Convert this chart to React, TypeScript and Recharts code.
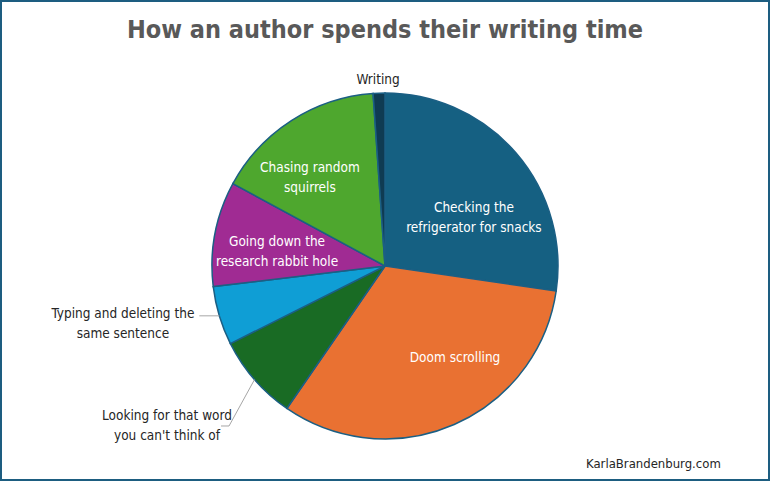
import { Pie, PieChart, Cell } from 'recharts'

const categories = [
    'Checking the refrigerator for snacks',
    'Doom scrolling',
    "Looking for that word you can't think of",
    'Typing and deleting the same sentence',
    'Going down the research rabbit hole',
    'Chasing random squirrels',
    'Writing',
]
const shares = [27.3, 32.3, 8, 5.5, 9.8, 16, 1.1]
// label text split into lines as in the original
const labelLines = [
    ['Checking the', 'refrigerator for snacks'],
    ['Doom scrolling'],
    ['Looking for that word', "you can't think of"],
    ['Typing and deleting the', 'same sentence'],
    ['Going down the', 'research rabbit hole'],
    ['Chasing random', 'squirrels'],
    ['Writing'],
]

const colors = ['#156082', '#E97132', '#196B24', '#0F9ED5', '#A02B93', '#4EA72E', '#0f3b52']

// label centre, relative to the centre, in units of the radius
const labelPos = [
    [0.514, -0.283],
    [0.405, 0.526],
    [-1.26, 0.919],
    [-1.515, 0.33],
    [-0.624, -0.087],
    [-0.434, -0.514],
    [-0.04, -1.08],
]
const outside = [false, false, true, true, false, false, true]

const W = 770
const H = 481
const CX = 385
const CY = 266
const R = 173
const FONT = '"DejaVu Sans Condensed", "Liberation Sans Narrow", Roboto, sans-serif'

const data = categories.map((name, i) => ({ name, value: shares[i] }))

function renderLabel(props: any) {
    const { cx, cy, outerRadius, midAngle, index } = props
    const rad = Math.PI / 180
    const [fx, fy] = labelPos[index]
    const tx = cx + fx * outerRadius
    const ty = cy + fy * outerRadius
    const lines = labelLines[index]
    const fill = outside[index] ? '#262626' : '#ffffff'
    const lh = 20
    const top = ty - ((lines.length - 1) * lh) / 2
    let leader = null
    const ex = cx + outerRadius * Math.cos(-midAngle * rad)
    const ey = cy + outerRadius * Math.sin(-midAngle * rad)
    if (index === 3) {
        leader = <path d={`M${ex},${ey} L${ex - 20},${ey}`} stroke="#a6a6a6" fill="none" />
    } else if (index === 2) {
        const bx = tx + 62
        const by = ty + 1
        leader = <path d={`M${ex},${ey} L${bx},${by} L${bx - 8},${by}`} stroke="#a6a6a6" fill="none" />
    }
    return (
        <g key={`lbl-${index}`}>
            {leader}
            <text
                x={tx}
                y={top}
                fill={fill}
                textAnchor="middle"
                dominantBaseline="central"
                fontFamily={FONT}
                fontSize={13.5}
            >
                {lines.map((l, i) => (
                    <tspan key={i} x={tx} dy={i === 0 ? 0 : lh}>
                        {l}
                    </tspan>
                ))}
            </text>
        </g>
    )
}

export default function App() {
    return (
        <div
            style={{
                position: 'absolute',
                left: 0,
                top: 0,
                width: W,
                height: H,
                boxSizing: 'border-box',
                border: '2px solid #1d5d80',
                background: '#fff',
                overflow: 'hidden',
            }}
        >
            <div
                style={{
                    position: 'absolute',
                    left: 0,
                    top: 13,
                    width: W - 4,
                    textAlign: 'center',
                    fontFamily: FONT,
                    fontWeight: 'bold',
                    fontSize: 25,
                    color: '#595959',
                }}
            >
                How an author spends their writing time
            </div>
            <div
                style={{
                    position: 'absolute',
                    left: 584,
                    top: 454,
                    fontFamily: FONT,
                    fontSize: 13,
                    color: '#262626',
                }}
            >
                KarlaBrandenburg.com
            </div>
            <div style={{ position: 'absolute', left: -2, top: -2 }}>
                <PieChart width={W} height={H} margin={{ top: 0, right: 0, bottom: 0, left: 0 }}>
                    <Pie
                        data={data}
                        dataKey="value"
                        nameKey="name"
                        cx={CX}
                        cy={CY}
                        outerRadius={R}
                        startAngle={90}
                        endAngle={-270}
                        stroke="#1b5f84"
                        strokeWidth={1.5}
                        label={renderLabel}
                        labelLine={false}
                        isAnimationActive={false}
                    >
                        {data.map((d, i) => (
                            <Cell key={d.name} fill={colors[i]} />
                        ))}
                    </Pie>
                </PieChart>
            </div>
        </div>
    )
}
